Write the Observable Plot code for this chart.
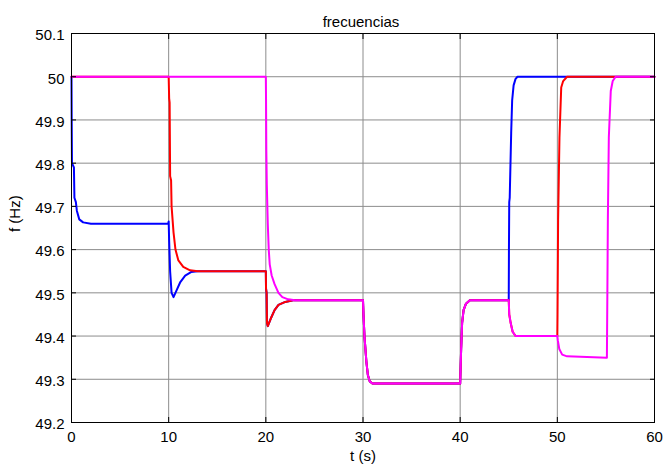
<!DOCTYPE html>
<html>
<head>
<meta charset="utf-8">
<script src="https://cdn.jsdelivr.net/npm/d3@7"></script>
<script src="https://cdn.jsdelivr.net/npm/@observablehq/plot@0.6"></script>
<style>
  html, body { margin: 0; padding: 0; background: #fff; }
  svg { display: block; }
</style>
</head>
<body>
<div id="chart"></div>
<script>
// Texts
const title = "frecuencias";
const xLabel = "t (s)";
const yLabel = "f (Hz)";

// Axis ticks
const xTicks = [0, 10, 20, 30, 40, 50, 60];
const yTicks = [49.2, 49.3, 49.4, 49.5, 49.6, 49.7, 49.8, 49.9, 50, 50.1];

// Series (one per generator) and their colours
const series = ["gen1", "gen2", "gen3"];
const colors = ["#0000ff", "#ff0000", "#ff00ff"];

// Generator 1 frequency: time (s) / frequency (Hz)
const t1 = [0, 0.02, 0.05, 0.25, 0.3, 0.45, 0.55, 0.8, 1.2, 2, 9.95, 10, 10.05, 10.15, 10.3, 10.5, 10.8, 11.2, 11.7, 12.3, 13,
  20, 20.02, 20.08, 20.12, 20.2, 20.5, 20.9, 21.3, 22, 22.8,
  30, 30.05, 30.15, 30.35, 30.5, 30.7, 31,
  40, 40.05, 40.1, 40.2, 40.35, 40.6, 41,
  45, 45.02, 45.05, 45.1, 45.25, 45.35, 45.5, 45.7, 45.9, 60];
const f1 = [50, 49.9, 49.8, 49.79, 49.72, 49.71, 49.69, 49.67, 49.663, 49.66, 49.66, 49.665, 49.62, 49.55, 49.5, 49.49, 49.505, 49.525, 49.54, 49.548, 49.55,
  49.55, 49.51, 49.5, 49.43, 49.423, 49.44, 49.46, 49.472, 49.479, 49.483,
  49.483, 49.45, 49.4, 49.34, 49.31, 49.295, 49.29,
  49.29, 49.33, 49.37, 49.43, 49.46, 49.475, 49.483,
  49.483, 49.6, 49.71, 49.72, 49.87, 49.945, 49.98, 49.995, 50, 50];

// Generator 2 frequency
const t2 = [0, 10, 10.05, 10.1, 10.15, 10.25, 10.3, 10.5, 10.7, 11, 11.5, 12.2, 13,
  20, 20.02, 20.08, 20.12, 20.2, 20.5, 20.9, 21.3, 22, 22.8,
  30, 30.05, 30.15, 30.35, 30.5, 30.7, 31,
  40, 40.05, 40.1, 40.2, 40.35, 40.6, 41,
  45, 45.05, 45.2, 45.4, 45.7,
  50, 50.02, 50.08, 50.22, 50.4, 50.6, 51, 60];
const f2 = [50, 50, 49.95, 49.94, 49.77, 49.76, 49.7, 49.64, 49.6, 49.575, 49.56, 49.552, 49.55,
  49.55, 49.51, 49.5, 49.43, 49.423, 49.44, 49.46, 49.472, 49.479, 49.483,
  49.483, 49.45, 49.4, 49.34, 49.31, 49.295, 49.29,
  49.29, 49.33, 49.37, 49.43, 49.46, 49.475, 49.483,
  49.483, 49.45, 49.43, 49.41, 49.4,
  49.4, 49.45, 49.67, 49.86, 49.975, 49.99, 50, 50];

// Generator 3 frequency
const t3 = [0, 20, 20.02, 20.05, 20.1, 20.2, 20.3, 20.4, 20.6, 20.9, 21.3, 21.7, 22.3, 23,
  30, 30.05, 30.15, 30.35, 30.5, 30.7, 31,
  40, 40.05, 40.1, 40.2, 40.35, 40.6, 41,
  45, 45.05, 45.2, 45.4, 45.7,
  50, 50.05, 50.2, 50.5, 51, 55.1, 55.15, 55.2, 55.3, 55.5, 55.7, 56, 60];
const f3 = [50, 50, 49.95, 49.83, 49.75, 49.66, 49.6, 49.566, 49.54, 49.52, 49.5, 49.49, 49.485, 49.483,
  49.483, 49.45, 49.4, 49.34, 49.31, 49.295, 49.29,
  49.29, 49.33, 49.37, 49.43, 49.46, 49.475, 49.483,
  49.483, 49.45, 49.43, 49.41, 49.4,
  49.4, 49.39, 49.37, 49.357, 49.353, 49.35, 49.5, 49.67, 49.86, 49.967, 49.99, 50, 50];

// Long-format table for the line mark
const times = [t1, t2, t3];
const freqs = [f1, f2, f3];
const rows = series.flatMap((s, i) => times[i].map((t, j) => ({serie: s, t, f: freqs[i][j]})));

const fmt = d => `${d}`;
const gridColor = "#8c8c8c";

const chart = Plot.plot({
  width: 664,
  height: 469,
  marginLeft: 71,
  marginRight: 10,
  marginTop: 33,
  marginBottom: 47,
  style: {fontFamily: "'Liberation Sans', Arial, sans-serif", fontSize: "15px", color: "#000", background: "#fff"},
  x: {domain: [0, 60]},
  y: {domain: [49.2, 50.1]},
  color: {domain: series, range: colors},
  marks: [
    // grid
    Plot.gridX(xTicks, {stroke: gridColor, strokeOpacity: 1}),
    Plot.gridY(yTicks, {stroke: gridColor, strokeOpacity: 1}),
    // frequency traces
    Plot.line(rows, {x: "t", y: "f", z: "serie", stroke: "serie", strokeWidth: 2, curve: "linear"}),
    // box
    Plot.frame({stroke: "#000", strokeWidth: 1}),
    // inward ticks on all four sides
    Plot.axisX(xTicks, {anchor: "bottom", tickSize: -5, fill: "none", label: null}),
    Plot.axisX(xTicks, {anchor: "top", tickSize: -5, fill: "none", label: null}),
    Plot.axisY(yTicks, {anchor: "left", tickSize: -5, fill: "none", label: null}),
    Plot.axisY(yTicks, {anchor: "right", tickSize: -5, fill: "none", label: null}),
    // tick labels
    Plot.axisX(xTicks, {anchor: "bottom", tickSize: 0, tickPadding: 9, tickFormat: fmt, label: null, fontSize: 15}),
    Plot.axisY(yTicks, {anchor: "left", tickSize: 0, tickPadding: 7, tickFormat: fmt, label: null, fontSize: 15, dy: 2}),
    // titles
    Plot.text([title], {frameAnchor: "top", dy: -17, dx: -2, fontSize: 15}),
    Plot.text([xLabel], {frameAnchor: "bottom", dy: 38, fontSize: 15}),
    Plot.text([yLabel], {frameAnchor: "left", dx: -56, dy: 4, rotate: -90, fontSize: 15})
  ]
});

document.getElementById("chart").append(chart);
</script>
</body>
</html>
